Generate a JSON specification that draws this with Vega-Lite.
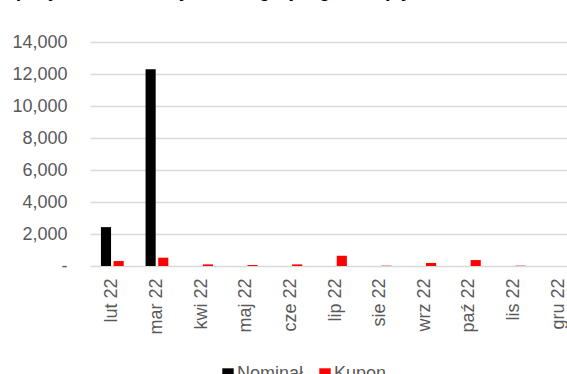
{
  "$schema": "https://vega.github.io/schema/vega-lite/v6.json",
  "autosize": "none",
  "width": 491,
  "height": 224,
  "padding": {"left": 90, "top": 42, "right": 0, "bottom": 108},
  "background": "white",
  "title": {
    "text": "Kwoty spłaty zadłużenia z tytułu obligacji wg miesięcy, mln zł",
    "font": "Liberation Sans",
    "fontSize": 18,
    "fontWeight": "bold",
    "color": "black",
    "anchor": "start",
    "dx": -65,
    "offset": 32
  },
  "data": {
    "values": [
      {"month": "lut 22", "series": "Nominał", "value": 2430},
      {"month": "lut 22", "series": "Kupon", "value": 310},
      {"month": "mar 22", "series": "Nominał", "value": 12300},
      {"month": "mar 22", "series": "Kupon", "value": 520},
      {"month": "kwi 22", "series": "Nominał", "value": 0},
      {"month": "kwi 22", "series": "Kupon", "value": 100},
      {"month": "maj 22", "series": "Nominał", "value": 0},
      {"month": "maj 22", "series": "Kupon", "value": 60},
      {"month": "cze 22", "series": "Nominał", "value": 0},
      {"month": "cze 22", "series": "Kupon", "value": 100},
      {"month": "lip 22", "series": "Nominał", "value": 0},
      {"month": "lip 22", "series": "Kupon", "value": 640},
      {"month": "sie 22", "series": "Nominał", "value": 0},
      {"month": "sie 22", "series": "Kupon", "value": 20},
      {"month": "wrz 22", "series": "Nominał", "value": 0},
      {"month": "wrz 22", "series": "Kupon", "value": 190},
      {"month": "paź 22", "series": "Nominał", "value": 0},
      {"month": "paź 22", "series": "Kupon", "value": 370},
      {"month": "lis 22", "series": "Nominał", "value": 0},
      {"month": "lis 22", "series": "Kupon", "value": 20},
      {"month": "gru 22", "series": "Nominał", "value": 0},
      {"month": "gru 22", "series": "Kupon", "value": 0}
    ]
  },
  "mark": {"type": "bar"},
  "encoding": {
    "x": {
      "field": "month",
      "type": "nominal",
      "sort": ["lut 22", "mar 22", "kwi 22", "maj 22", "cze 22", "lip 22", "sie 22", "wrz 22", "paź 22", "lis 22", "gru 22"],
      "scale": {"paddingInner": 0.49, "paddingOuter": 0.245},
      "axis": {
        "title": null,
        "labelAngle": -90,
        "labelAlign": "right",
        "labelBaseline": "middle",
        "labelPadding": 12,
        "labelFont": "Liberation Sans",
        "labelFontSize": 18,
        "labelColor": "#595959",
        "domain": false,
        "ticks": false,
        "grid": false
      }
    },
    "xOffset": {
      "field": "series",
      "type": "nominal",
      "sort": ["Nominał", "Kupon"],
      "scale": {"paddingInner": 0.2}
    },
    "y": {
      "field": "value",
      "type": "quantitative",
      "scale": {"domain": [0, 14000]},
      "axis": {
        "title": null,
        "values": [0, 2000, 4000, 6000, 8000, 10000, 12000, 14000],
        "labelExpr": "datum.value == 0 ? '-\u2007' : format(datum.value, ',')",
        "labelFont": "Liberation Sans",
        "labelFontSize": 18,
        "labelColor": "#595959",
        "labelPadding": 23,
        "domain": false,
        "ticks": false,
        "gridColor": "#d9d9d9",
        "gridWidth": 1.5
      }
    },
    "color": {
      "field": "series",
      "type": "nominal",
      "sort": ["Nominał", "Kupon"],
      "scale": {"domain": ["Nominał", "Kupon"], "range": ["#000000", "#ff0000"]},
      "legend": {
        "title": null,
        "orient": "none",
        "direction": "horizontal",
        "legendX": 129,
        "legendY": 323,
        "symbolType": "square",
        "symbolSize": 130,
        "symbolStrokeWidth": 0,
        "labelFont": "Liberation Sans",
        "labelFontSize": 18,
        "labelColor": "#595959",
        "labelOffset": 0,
        "columnPadding": 12
      }
    }
  },
  "config": {"view": {"stroke": null}}
}
